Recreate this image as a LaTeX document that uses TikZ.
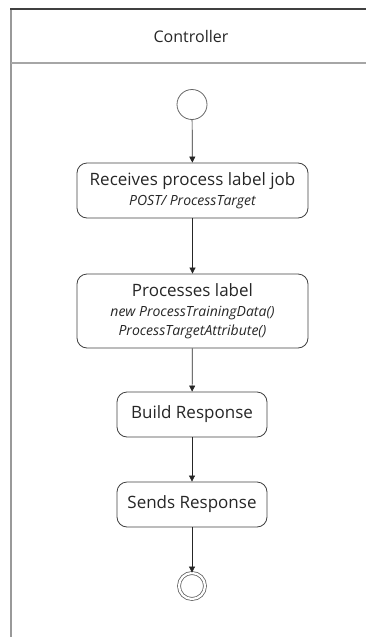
\documentclass[tikz,border=0pt]{standalone}
\usepackage{fontspec}
\setmainfont{Open Sans}
\usepackage{xcolor}
\usetikzlibrary{arrows.meta}

\begin{document}
\begin{tikzpicture}[x=1pt,y=1pt,yscale=-1,xscale=1,
  act/.style={draw=black!75,line width=0.8pt,rounded corners=10pt,align=center,inner sep=0pt,text=black!85,font=\fontsize{17}{20}\selectfont},
  flow/.style={draw=black!85,line width=0.7pt,-{Triangle[width=6pt,length=6pt]}}]
\newcommand{\opcall}[1]{{\fontsize{14}{20}\selectfont\itshape #1}}
\useasboundingbox (0,0) rectangle (366,637);

%Shape: Swimlane frame
\draw [color=black!40,line width=2pt] (11,9) -- (11,637) ;
\draw [color=black!75,line width=2pt] (10,9) -- (366,9) ;
\draw [color=black!35,line width=2pt] (11,63) -- (366,63) ;
% Text Node
\node (lane) at (191,36) [text=black!85,font=\fontsize{16}{19}\selectfont] {Controller};

%Shape: Start state
\node (start) at (192,104.5) [circle,draw=black!60,line width=0.8pt,minimum size=30pt,inner sep=0pt] {};
%Shape: Actions
\node (receive) at (192.5,190.5) [act,minimum width=231pt,minimum height=55pt]
  {Receives process label job\\ \opcall{POST/ ProcessTarget}};
\node (process) at (192.5,311) [act,minimum width=231pt,minimum height=74pt]
  {Processes label\\[-0.5pt] \opcall{new ProcessTrainingData()}\\[-1pt] \opcall{ProcessTargetAttribute()}};
\node (build) at (192,414.5) [act,minimum width=150pt,minimum height=45pt] {Build Response};
\node (send) at (192,504.5) [act,minimum width=150pt,minimum height=45pt] {Sends Response};
%Shape: Final state
\node (final) at (192,586) [circle,draw=black!60,line width=0.8pt,double=white,double distance=2.2pt,minimum size=26pt,inner sep=0pt] {};

%Straight Lines
\draw [flow] (start) -- (receive) ;
\draw [flow] (receive) -- (process) ;
\draw [flow] (process) -- (build) ;
\draw [flow] (build) -- (send) ;
\draw [flow] (send) -- (final) ;

\end{tikzpicture}
\end{document}
